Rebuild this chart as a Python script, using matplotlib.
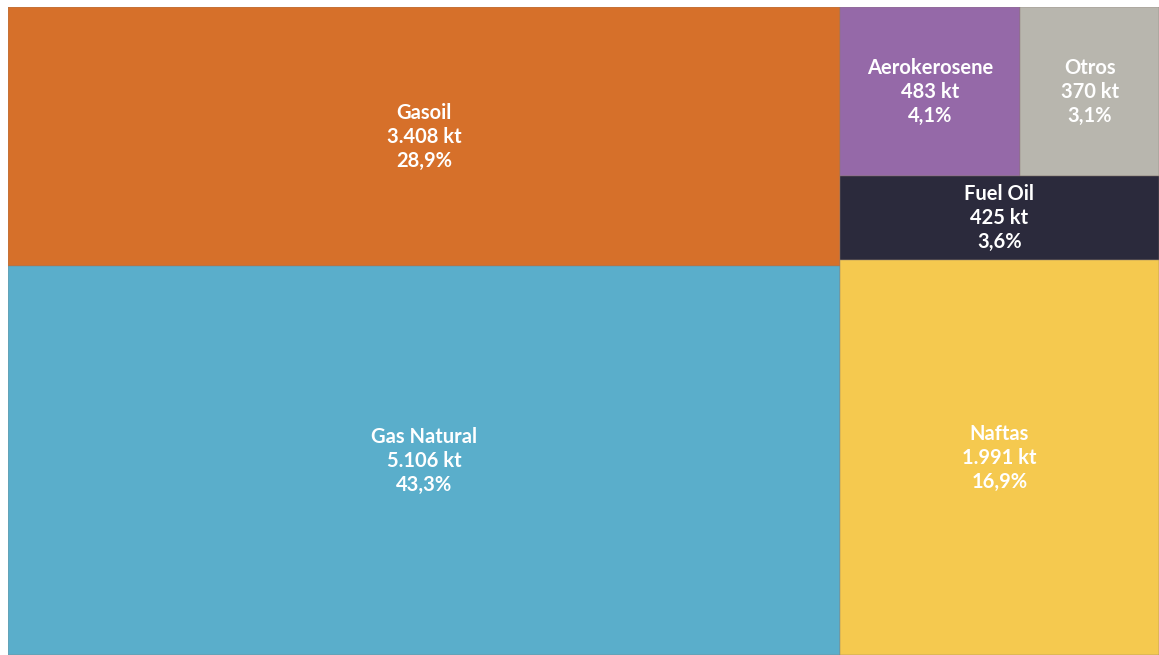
import matplotlib.pyplot as plt
from matplotlib.patches import Rectangle

# values in kt
names = ["Gasoil", "Gas Natural", "Aerokerosene", "Otros", "Fuel Oil", "Naftas"]
values = [3408, 5106, 483, 370, 425, 1991]
shares = ["28,9%", "43,3%", "4,1%", "3,1%", "3,6%", "16,9%"]
colors = ["#D6702A", "#5AAECB", "#9569A8", "#B8B6AE", "#2B2A3C", "#F5C94F"]

# grouping of the treemap (indices into the lists above)
# columns -> rows -> cells, split horizontally / vertically / horizontally
groups = [[[0], [1]], [[2, 3], [4], [5]]]

plt.rcParams["font.family"] = ["Lato", "DejaVu Sans"]

W, H = 1159, 655
fig = plt.figure(figsize=(W / 100, H / 100), dpi=100)
ax = fig.add_axes([8 / W, 0, (W - 8) / W, (H - 7) / H])
ax.set_xlim(0, 1)
ax.set_ylim(0, 1)
ax.axis("off")


def cell(i, x, y, w, h):
    ax.add_patch(Rectangle((x, y), w, h, facecolor=colors[i],
                           edgecolor="#8a7a70", linewidth=0.3))
    kt = f"{values[i]:,}".replace(",", ".")
    ax.text(x + w / 2, y + h / 2, f"{names[i]}\n{kt} kt\n{shares[i]}",
            ha="center", va="center", color="white", fontsize=14.5,
            fontweight="bold", linespacing=1.25)


total = sum(values)
x0 = 0.0
for col in groups:
    col_sum = sum(values[i] for row in col for i in row)
    cw = col_sum / total
    ytop = 1.0
    for row in col:
        row_sum = sum(values[i] for i in row)
        rh = row_sum / col_sum
        xx = x0
        for i in row:
            w = cw * values[i] / row_sum
            cell(i, xx, ytop - rh, w, rh)
            xx += w
        ytop -= rh
    x0 += cw

fig.savefig("out.png", dpi=100, facecolor="white")
